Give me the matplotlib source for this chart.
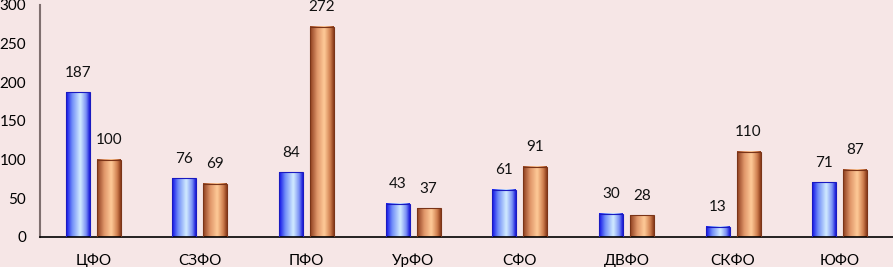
import matplotlib
matplotlib.use("Agg")
import matplotlib.pyplot as plt
import numpy as np
from matplotlib.colors import LinearSegmentedColormap

categories = ["ЦФО", "СЗФО", "ПФО", "УрФО", "СФО", "ДВФО", "СКФО", "ЮФО"]
series_a = [187, 76, 84, 43, 61, 30, 13, 71]
series_b = [100, 69, 272, 37, 91, 28, 110, 87]
yticks = [0, 50, 100, 150, 200, 250, 300]

bg = "#F6E6E6"
plt.rcParams['font.family'] = ['Lato', 'DejaVu Sans']

fig = plt.figure(figsize=(8.93, 2.67), dpi=100, facecolor=bg)
ax = fig.add_axes([40/893, 30/267, 853/893, 232/267], facecolor=bg)

cmap_a = LinearSegmentedColormap.from_list("a", [(0, "#1010E8"), (0.25, "#6F8CF8"), (0.6, "#D2ECFF"), (0.85, "#7A90F5"), (1, "#1818D8")])
cmap_b = LinearSegmentedColormap.from_list("b", [(0, "#8E3E1E"), (0.3, "#E0966A"), (0.6, "#FFCB98"), (0.85, "#D08050"), (1, "#8A3A1A")])

x = np.arange(len(categories))
w = 0.225
off = 0.145
grad = np.linspace(0, 1, 64).reshape(1, -1)

def draw(xs, vals, cmap, edge):
    bars = ax.bar(xs, vals, width=w, color="none", edgecolor=edge, linewidth=0.8, zorder=3)
    for b in bars:
        x0, y0, bw, bh = b.get_x(), b.get_y(), b.get_width(), b.get_height()
        ax.imshow(grad, cmap=cmap, aspect="auto", extent=(x0, x0 + bw, y0, y0 + bh), zorder=2, interpolation="bicubic")
    for xi, v in zip(xs, vals):
        ax.annotate(str(v), (xi, v), xytext=(0, 9), textcoords="offset points", ha="center", va="bottom", fontsize=11, color="#111111")

draw(x - off, series_a, cmap_a, "#1A1AC0")
draw(x + off, series_b, cmap_b, "#7A3418")

ax.set_xlim(-0.5, len(categories) - 0.5)
ax.set_ylim(0, 300)
ax.set_yticks(yticks)
ax.set_xticks(x)
ax.set_xticklabels(categories, fontsize=11)
ax.tick_params(axis="y", length=0, pad=10, labelsize=11)
ax.tick_params(axis="x", length=0, pad=12)
for s in ["top", "right"]:
    ax.spines[s].set_visible(False)
ax.spines["left"].set_color("#7F6F6F")
ax.spines["left"].set_linewidth(1.5)
ax.spines["bottom"].set_color("#000000")
ax.spines["bottom"].set_linewidth(1.2)

fig.savefig("out.png", dpi=100, facecolor=bg)
